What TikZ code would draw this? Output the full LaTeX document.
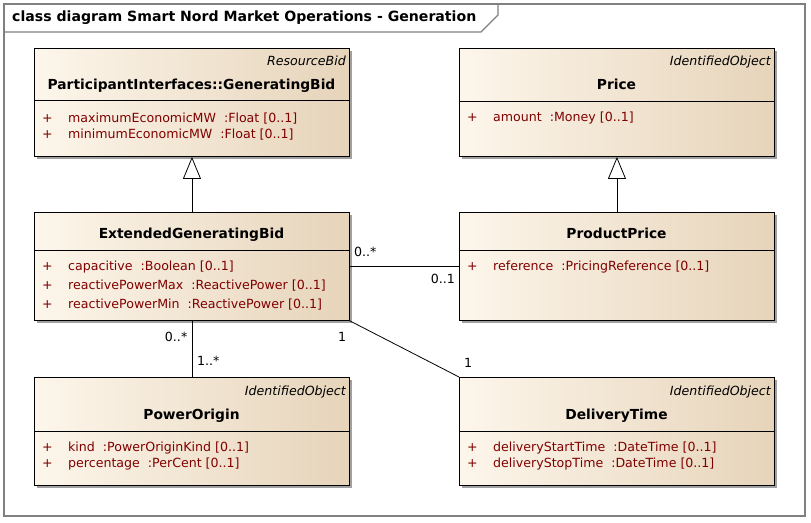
\documentclass[tikz,border=0pt]{standalone}
\usepackage{fontspec}
\setmainfont{DejaVu Sans}
\usetikzlibrary{arrows.meta,shadows}
\definecolor{boxL}{RGB}{253,246,235}
\definecolor{boxM}{RGB}{249,238,222}
\definecolor{boxR}{RGB}{230,212,186}
\definecolor{attrc}{RGB}{128,0,0}
\definecolor{framec}{RGB}{128,128,128}
\definecolor{shadowc}{RGB}{160,160,160}
\begin{document}
\begin{tikzpicture}[x=1pt,y=-1pt,
  cls/.style={draw=black, line width=0.9pt, left color=boxL, middle color=boxM, right color=boxR,
    anchor=north west, minimum width=315pt, minimum height=108pt, inner sep=0pt,
    general shadow={fill=shadowc, shadow xshift=3pt, shadow yshift=-3pt}},
  sep/.style={draw=black, line width=0.9pt},
  stereo/.style={font=\fontsize{12.6}{14}\selectfont\itshape, anchor=base east, inner sep=0pt},
  ctitle/.style={font=\fontsize{13.8}{15}\selectfont\bfseries, anchor=base, inner sep=0pt},
  attr/.style={font=\fontsize{12.6}{14}\selectfont, text=attrc, anchor=base west, inner sep=0pt},
  mult/.style={font=\fontsize{12.6}{14}\selectfont, anchor=base west, inner sep=0pt},
  multr/.style={mult, anchor=base east},
  assoc/.style={draw=black, line width=0.8pt},
  gen/.style={draw=black, line width=0.8pt, -{Triangle[length=22pt,width=18pt,fill=white]}},
  fr/.style={draw=framec, line width=2pt},
  frtitle/.style={font=\fontsize{14.1}{16}\selectfont\bfseries, anchor=base west, inner sep=0pt}
]
\useasboundingbox (0,0) rectangle (811,522);

% frame
\draw[fr] (4,4) rectangle (805,516);
\draw[draw=framec, line width=1.3pt] (498,4) -- (498,15) -- (481,32) -- (4,32);
\node[frtitle] (ftitle) at (12,21) {class diagram Smart Nord Market Operations - Generation};

% boxes
\node[cls] (gb)  at (34,48)  {};
\node[cls] (pr)  at (459,48) {};
\node[cls] (egb) at (34,212) {};
\node[cls] (pp)  at (459,212) {};
\node[cls] (po)  at (34,377) {};
\node[cls] (dt)  at (459,377) {};

% separators
\draw[sep] ([yshift=-52pt]gb.north west) -- ([yshift=-52pt]gb.north east);
\draw[sep] ([yshift=-53pt]pr.north west) -- ([yshift=-53pt]pr.north east);
\draw[sep] ([yshift=-38pt]egb.north west) -- ([yshift=-38pt]egb.north east);
\draw[sep] ([yshift=-38pt]pp.north west) -- ([yshift=-38pt]pp.north east);
\draw[sep] ([yshift=-54pt]po.north west) -- ([yshift=-54pt]po.north east);
\draw[sep] ([yshift=-54pt]dt.north west) -- ([yshift=-54pt]dt.north east);

% GeneratingBid
\node[stereo] (gbS) at (346,65.7) {ResourceBid};
\node[ctitle] (gbT) at (191.5,89.5) {ParticipantInterfaces::GeneratingBid};
\node[attr] (gbP1) at (42,122.3) {+};
\node[attr] (gbA1) at (68,122.3) {maximumEconomicMW\ \ :Float [0..1]};
\node[attr] (gbP2) at (42,138.5) {+};
\node[attr] (gbA2) at (68,138.5) {minimumEconomicMW\ \ :Float [0..1]};

% Price
\node[stereo] (prS) at (771,65.7) {IdentifiedObject};
\node[ctitle] (prT) at (616.5,89.5) {Price};
\node[attr] (prP1) at (467,121) {+};
\node[attr] (prA1) at (493,121) {amount\ \ :Money [0..1]};

% ExtendedGeneratingBid
\node[ctitle] (egbT) at (191.5,238.5) {ExtendedGeneratingBid};
\node[attr] (egbP1) at (42,270) {+};
\node[attr] (egbA1) at (68,270) {capacitive\ \ :Boolean [0..1]};
\node[attr] (egbP2) at (42,289) {+};
\node[attr] (egbA2) at (68,289) {reactivePowerMax\ \ :ReactivePower [0..1]};
\node[attr] (egbP3) at (42,308.3) {+};
\node[attr] (egbA3) at (68,308.3) {reactivePowerMin\ \ :ReactivePower [0..1]};

% ProductPrice
\node[ctitle] (ppT) at (616.5,238.5) {ProductPrice};
\node[attr] (ppP1) at (467,270) {+};
\node[attr] (ppA1) at (493,270) {reference\ \ :PricingReference [0..1]};

% PowerOrigin
\node[stereo] (poS) at (346,395.7) {IdentifiedObject};
\node[ctitle] (poT) at (191.5,419.3) {PowerOrigin};
\node[attr] (poP1) at (42,451) {+};
\node[attr] (poA1) at (68,451) {kind\ \ :PowerOriginKind [0..1]};
\node[attr] (poP2) at (42,467.7) {+};
\node[attr] (poA2) at (68,467.7) {percentage\ \ :PerCent [0..1]};

% DeliveryTime
\node[stereo] (dtS) at (771,395.7) {IdentifiedObject};
\node[ctitle] (dtT) at (616.5,419.3) {DeliveryTime};
\node[attr] (dtP1) at (467,451) {+};
\node[attr] (dtA1) at (493,451) {deliveryStartTime\ \ :DateTime [0..1]};
\node[attr] (dtP2) at (467,467.7) {+};
\node[attr] (dtA2) at (493,467.7) {deliveryStopTime\ \ :DateTime [0..1]};

% connectors
\draw[gen] (egb.north) -- (gb.south);
\draw[gen] (pp.north) -- (pr.south);
\draw[assoc] (egb.east) -- (pp.west);
\draw[assoc] (egb.south) -- (po.north);
\draw[assoc] (egb.south east) -- (dt.north west);

% multiplicities
\node[mult] (m1) at (354,256.7) {0..*};
\node[multr] (m2) at (455,283.3) {0..1};
\node[multr] (m3) at (187.5,341.7) {0..*};
\node[mult] (m4) at (197,365) {1..*};
\node[mult] (m5) at (338,341.7) {1};
\node[mult] (m6) at (464,367.7) {1};
\end{tikzpicture}
\end{document}
